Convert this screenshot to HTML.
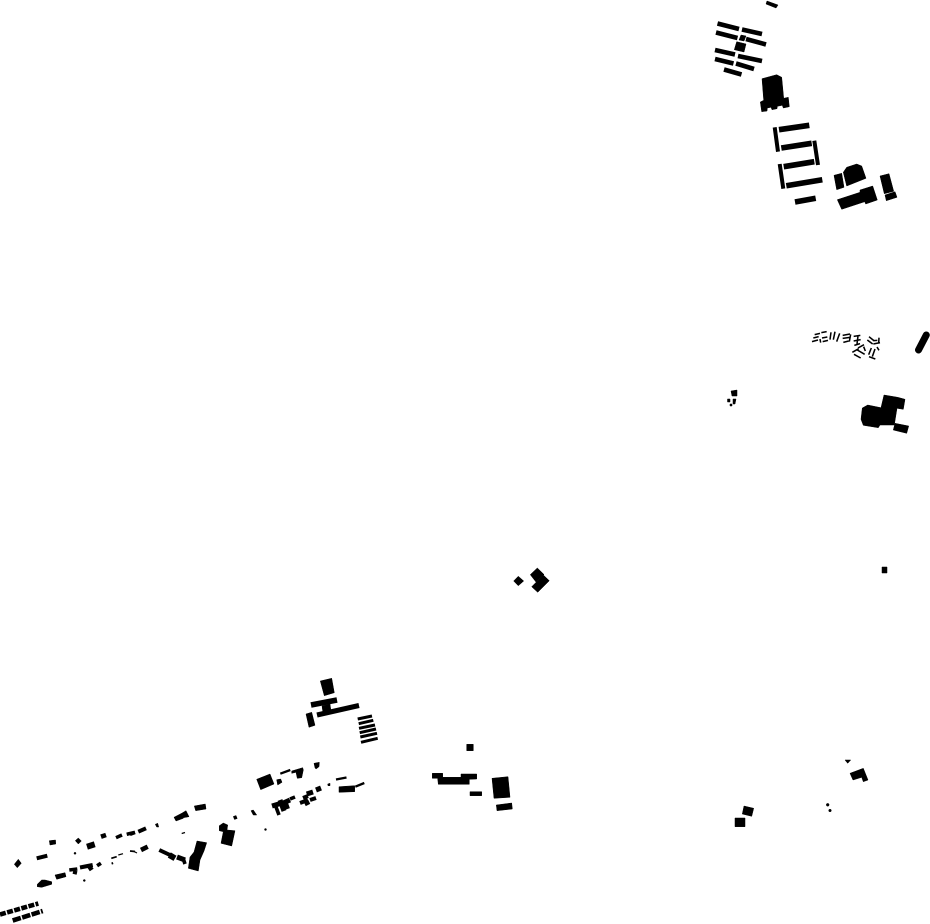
<!DOCTYPE html>
<html><head><meta charset="utf-8"><style>html,body{margin:0;padding:0;background:#fff}svg{display:block}</style></head>
<body>
<svg width="930" height="924" viewBox="0 0 930 924" xmlns="http://www.w3.org/2000/svg">
<rect width="930" height="924" fill="#fff"/>
<g fill="#000" stroke="#000" stroke-width=".5">
<polygon points="767,1 778,5 776,8 766,4"/>
<polygon points="741,35 746,36 744,41 739,40"/>
<polygon points="736.7,41.7 746,44 744,52 734.3,49.7"/>
<polygon points="762,78.7 776.7,74.7 781.7,77.3 783.7,98.3 788.3,97.3 789.3,106.7 783.3,108 782.3,105.3 777.3,106.3 777,108.7 772,109.7 771,107.3 767.3,108 767,111 761.7,111.7 760.3,102 763.7,100.3"/>
<polygon points="834,175.3 841.7,173.3 844,187.3 836.7,189.7"/>
<polygon points="843.3,172.3 846.7,167.3 856.7,164 861.7,166 866,178.3 846.7,186"/>
<polygon points="837.3,199.7 860,192.3 860,190 872.7,186 877.3,200 865.7,204 864.7,201.7 841.7,209.3"/>
<polygon points="880,176 889,173.7 893.7,191.3 884.3,193.7"/>
<polygon points="885,195 895,191.7 897,197.3 886.3,200.7"/>
<polygon points="862.3,408 867.7,405 881,407.7 884,395 897.7,397.3 905,399.3 903.3,409.3 897,408.3 894.3,425 880,425 878.3,427.7 863.3,425.3 861,419.3"/>
<polygon points="895,423.3 908.7,426 906.7,433.3 893.3,430"/>
<polygon points="731,391 737,390 737,396 732,396"/>
<polygon points="727.5,399 730,399 730,402 727.5,402"/>
<polygon points="733,399 736,399 735,404 733,404"/>
<polygon points="730,404 732,404 732,406 730,406"/>
<polygon points="882,567 887,567 887,573 882,573"/>
<polygon points="513.7,581 518.3,576.3 523.7,581 518.3,585.7"/>
<polygon points="530.3,574.7 537.3,568 544,574.5 536,582"/>
<polygon points="531.7,586.7 543.3,575 549.3,580.7 537.7,592.3"/>
<polygon points="320.3,681 331.7,678.3 334.3,692.7 324.3,695.7"/>
<polygon points="322,706 330,704 331,711 323,713"/>
<polygon points="306,714 311.7,712.3 315,725.3 309,727.3"/>
<polygon points="256.7,779.3 270,774 274,784 260.7,789.7"/>
<polygon points="276.7,779.7 280.7,779 282,782.3 277.7,785"/>
<polygon points="291.7,771 302.7,767.7 303.3,770 301.7,777.7 297.3,778.3 296,772.3 291.7,773.3"/>
<polygon points="314,763.3 319.3,762.3 319,766.7 316,769 315,767.7"/>
<polygon points="327.7,784 330,783.3 330,785.7 328,785.7"/>
<polygon points="339,786.7 354.7,785.7 354.7,791.7 339,792.3"/>
<polygon points="251,810.7 253.3,810 256.7,815 253.3,815"/>
<polygon points="174,817.3 181.7,813.3 183.3,818.3 176,821"/>
<polygon points="181.7,813.3 186,810.7 189,816.7 183.3,817.7"/>
<polygon points="194.3,806 205.3,804 206,809 195.7,810.7"/>
<polygon points="155.3,824.3 157.7,823.3 158.7,827 156.7,827"/>
<polygon points="233.3,816.5 236,815.5 237.2,818.5 234.5,819.5"/>
<polygon points="219.3,825.7 223.3,823 227.7,825 227,830 235,830.7 231.7,846 221,843.3 223.3,831.7 219.3,830.7"/>
<polygon points="197,841 206.7,842.7 204,851 200,860 198.3,871 188.3,868.3 190,857 194,852"/>
<polygon points="14.3,864.3 18.3,859.3 21.3,863.3 17.3,867.7"/>
<polygon points="49.3,840.7 55.5,840 55.7,844 50,845"/>
<polygon points="75.3,840.7 78.3,838 81.3,841 78.3,844"/>
<polygon points="37.3,884.3 41.7,880 45,880 51.7,881.7 51.7,884.3 41.7,887.3 37.3,886.7"/>
<polygon points="55,875 65,872.7 66,876.7 56.7,879.3"/>
<polygon points="466.7,744.3 473.3,744.3 473.3,750.7 466.7,750.7"/>
<polygon points="432.3,773.3 442.7,773.3 442.7,777.3 461,777.3 461,774 476.7,774 476.7,779 469.3,779.3 469.3,784.3 438.3,784.3 437.7,778.3 432.3,778.3"/>
<polygon points="470,791.7 481.7,791.7 481.7,795.7 470,795.7"/>
<polygon points="492,778.3 508,776.7 510,797.3 494,798.3"/>
<polygon points="496.3,805 511.7,803 512.3,809 497,810.7"/>
<polygon points="735,818 745,818 745,826.7 735,826.7"/>
<polygon points="744,806 753.7,808.3 751.7,816.3 742.3,814"/>
<polygon points="845,760 850.7,760 847.7,763.3"/>
<polygon points="850,773.3 863.3,768.3 868,780 863.3,781.7 861.7,777.3 853,780"/>
<circle cx="827.7" cy="804.8" r="1.4"/><circle cx="830" cy="810.5" r="1.3"/>
<circle cx="75" cy="853.3" r="1"/><circle cx="84.3" cy="880.5" r="1"/><circle cx="265.5" cy="829.5" r="1"/>
</g>
<g stroke="#000" fill="none">
<g stroke-width="4.6">
<path d="M717.5 23.5L739 29M716 32.5L737.5 38M742 29.5L762 34M746 39L766 44.5M715 50L735 54.5M738 56L762 61M715 59L733.5 63.5M736 63.5L754 69M724 69.5L741.5 74.5"/>
</g>
<g stroke-width="5.6">
<path d="M779 129.7L809.3 125.3M781.3 148L811.7 143.3M783.7 166.7L814.3 161.7M786.3 185.7L822.3 179.7M795 202L815.7 198.3"/>
</g>
<g stroke-width="4">
<path d="M774.7 127.3L778 151.7M814.3 140.7L818 165M779.7 164L783.3 188.7"/>
</g>
<path d="M926.3 335L918.5 350" stroke-width="7" stroke-linecap="round"/>
<path d="M311 705L337 700" stroke-width="5.5"/>
<path d="M317 715L359 705.5" stroke-width="5"/>
<path d="M357.7 719L372 716M358.7 723.7L373.3 720.3M359 728.3L375 725M359.7 732.7L376 729M360.3 737L377 733.3M361 742.3L377.7 738.3" stroke-width="3"/>
<path d="M280.3 773.7L290.3 770M355.3 786.7L364.3 783" stroke-width="2.3"/>
<path d="M336 779.5L346.5 777.5" stroke-width="2.2"/>
<path d="M272 806L282 803" stroke-width="5"/>
<path d="M281 804L290 800M285 802L287.5 809M280 800L284 811" stroke-width="5"/>
<path d="M276 807L279 815M290 799L295 797" stroke-width="3.6"/>
<path d="M303 798L308 796M300 803L308 800M310 800L316 798" stroke-width="4"/>
<path d="M306.7 794L313 792M316 790L321 788M306 801L308 805" stroke-width="5"/>
<path d="M130 834.3L135 832.5" stroke-width="3.5"/>
<path d="M138.3 831.7L146 828.3" stroke-width="4"/>
<path d="M181.7 833.5L185 832.5M133 851L137 853" stroke-width="1.2"/>
<path d="M141 850L147.7 846.7" stroke-width="4.6"/>
<path d="M159.3 850L170 855" stroke-width="4"/>
<path d="M169.3 855L175 858.3" stroke-width="6"/>
<path d="M177 857L185 860" stroke-width="5"/>
<path d="M183 858L185 864" stroke-width="3.6"/>
<path d="M36.7 858.3L47.3 855.7" stroke-width="4"/>
<path d="M87 846.7L94.7 844.3" stroke-width="6"/>
<path d="M101 836.7L106 835" stroke-width="4.6"/>
<path d="M116 837.7L122 835M126.7 834.3L135 832.3" stroke-width="3.5"/>
<path d="M111.3 858.3L116.7 856.7M112 862.3L112.7 864.3" stroke-width="1.6"/>
<path d="M118.3 855L123 853.7" stroke-width="1.2"/>
<path d="M130 851L135 851.5" stroke-width="1.8"/>
<path d="M69.3 870L77.3 869M73 872L77 873" stroke-width="3.6"/>
<path d="M80 867.5L92.7 865" stroke-width="4"/>
<path d="M89 866L91.7 870M98 863L100 866" stroke-width="4.6"/>
<path d="M0 914.5L38.3 903.5" stroke-width="4.6" stroke-dasharray="6 1.4"/>
<path d="M12.7 920.5L42.7 911" stroke-width="4.6" stroke-dasharray="8.5 1.4"/>
<g transform="translate(808 328) scale(.3333)" stroke-width="4.6">
<path d="M20 20L36 16M40 14L56 11M16 30L32 26M12 41L30 36M36 33L38 44M42 30L58 27M44 41L60 37"/>
<path d="M69 13L66 35M81 11L76 35M95 16L86 41M104 22L126 18M104 31L126 28M106 43L122 39M128 19L124 41"/>
<path d="M137 25L157 22M150 24L147 48M137 39L158 35M139 52L156 47"/>
<path d="M183 26L199 39M178 36L194 48M213 29L212 47M196 48L216 44M197 38L208 37"/>
<path d="M150 60L168 50M133 73L152 62M148 66L170 79M138 79L158 90M167 56L172 69"/>
<path d="M190 60L182 80M201 63L193 86M183 86L202 93M207 57L213 67"/>
</g>
</g>
</svg>
</body></html>
